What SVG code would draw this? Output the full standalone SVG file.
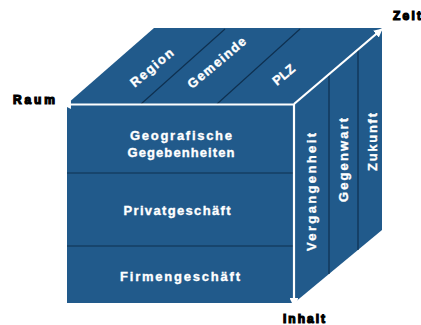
<svg xmlns="http://www.w3.org/2000/svg" width="421" height="325" viewBox="0 0 421 325">
<style>
.face{fill:#215a8b;stroke:none}
.div{stroke:#0e3050;stroke-width:1.2;fill:none}
.edge{stroke:#ffffff;stroke-width:2.2;fill:none}
.lbl{font-family:"Liberation Sans",Arial,sans-serif;font-weight:bold;font-size:13px;fill:#ffffff;stroke:#ffffff;stroke-width:0.35}
.ax{font-family:"Liberation Sans",Arial,sans-serif;font-weight:bold;font-size:12px;fill:#000000;stroke:#000000;stroke-width:1.2}
</style>
<defs>
<marker id="ah" viewBox="0 0 10 10" refX="9" refY="5" markerWidth="4" markerHeight="4" orient="auto" markerUnits="strokeWidth">
<path d="M0,0 L10,5 L0,10 z" fill="#ffffff"/>
</marker>
</defs>
<rect width="421" height="325" fill="#ffffff"/>
<g id="top">
<polygon class="face" points="67,104 154,28 382,28 294,104"/>
<line class="div" x1="141" y1="104" x2="225" y2="29"/>
<line class="div" x1="217" y1="104" x2="300" y2="29"/>
<text class="lbl" transform="translate(152,68) rotate(-40)" y="4" text-anchor="middle" textLength="52" lengthAdjust="spacing">Region</text>
<text class="lbl" transform="translate(217,63) rotate(-40)" y="4" text-anchor="middle" textLength="72" lengthAdjust="spacing">Gemeinde</text>
<text class="lbl" transform="translate(284,75) rotate(-40)" y="4" text-anchor="middle" textLength="25" lengthAdjust="spacing">PLZ</text>
</g>
<g id="right">
<polygon class="face" points="294,104 382,28 382,230 294,303"/>
<line class="div" x1="329" y1="74" x2="329" y2="274"/>
<line class="div" x1="358" y1="49" x2="358" y2="250"/>
<text class="lbl" transform="translate(316,192) rotate(-90)" text-anchor="middle" textLength="118" lengthAdjust="spacing">Vergangenheit</text>
<text class="lbl" transform="translate(348,160) rotate(-90)" text-anchor="middle" textLength="84" lengthAdjust="spacing">Gegenwart</text>
<text class="lbl" transform="translate(377,142) rotate(-90)" text-anchor="middle" textLength="58" lengthAdjust="spacing">Zukunft</text>
</g>
<g id="front">
<rect class="face" x="67" y="104" width="227" height="199"/>
<line class="div" x1="67" y1="173" x2="294" y2="173"/>
<line class="div" x1="67" y1="246" x2="294" y2="246"/>
<text class="lbl" x="181" y="140" text-anchor="middle" textLength="102" lengthAdjust="spacing">Geografische</text>
<text class="lbl" x="181" y="157" text-anchor="middle" textLength="107" lengthAdjust="spacing">Gegebenheiten</text>
<text class="lbl" x="177" y="215" text-anchor="middle" textLength="107" lengthAdjust="spacing">Privatgeschäft</text>
<text class="lbl" x="180" y="281" text-anchor="middle" textLength="120" lengthAdjust="spacing">Firmengeschäft</text>
</g>
<g id="connectors">
<line class="edge" x1="294" y1="104.5" x2="63" y2="104.5" marker-end="url(#ah)"/>
<line class="edge" x1="294" y1="104" x2="382" y2="29" marker-end="url(#ah)"/>
<line class="edge" x1="294" y1="104" x2="294" y2="306" marker-end="url(#ah)"/>
</g>
<g id="axis-labels">
<text class="ax" x="13" y="104" textLength="42" lengthAdjust="spacing">Raum</text>
<text class="ax" x="393" y="20" textLength="28" lengthAdjust="spacing">Zeit</text>
<text class="ax" x="283" y="323" textLength="42" lengthAdjust="spacing">Inhalt</text>
</g>
</svg>
